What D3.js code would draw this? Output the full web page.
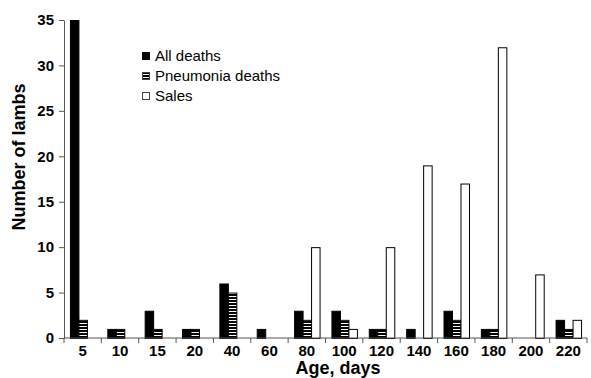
<!DOCTYPE html>
<html>
<head>
<meta charset="utf-8">
<script src="https://cdn.jsdelivr.net/npm/d3@7"></script>
<style>
  body { margin: 0; background: #fff; }
  svg { display: block; font-family: "Liberation Sans", Arial, sans-serif; }
</style>
</head>
<body>
<svg id="chart"></svg>
<script>
const width = 591
const height = 378
const marginTop = 20
const marginLeft = 64
const plotRight = 587
const plotBottom = 338

// data
const ages = ["5", "10", "15", "20", "40", "60", "80", "100", "120", "140", "160", "180", "200", "220"]
const allDeaths = [35, 1, 3, 1, 6, 1, 3, 3, 1, 1, 3, 1, 0, 2]
const pneumoniaDeaths = [2, 1, 1, 1, 5, 0, 2, 2, 1, 0, 2, 1, 0, 1]
const sales = [0, 0, 0, 0, 0, 0, 10, 1, 10, 19, 17, 32, 7, 2]
const seriesNames = ["All deaths", "Pneumonia deaths", "Sales"]
const yTicks = [0, 5, 10, 15, 20, 25, 30, 35]

const seriesValues = [allDeaths, pneumoniaDeaths, sales]
const fills = ["#000", "url(#hatch)", "#fff"]

const svg = d3.select("#chart")
    .attr("width", width)
    .attr("height", height)

const defs = svg.append("defs")
const hatch = defs.append("pattern")
    .attr("id", "hatch")
    .attr("patternUnits", "userSpaceOnUse")
    .attr("width", 6)
    .attr("height", 3)
hatch.append("rect").attr("width", 6).attr("height", 3).attr("fill", "#fff")
hatch.append("rect").attr("width", 6).attr("height", 2).attr("fill", "#000")

const x = d3.scaleBand()
    .domain(ages)
    .range([marginLeft, plotRight])
    .padding(0)

const xInner = d3.scaleBand()
    .domain(d3.range(3))
    .range([0, x.bandwidth()])
    .paddingInner(0)
    .paddingOuter(0.7)

const y = d3.scaleLinear()
    .domain([0, 35])
    .range([plotBottom, marginTop])

// bars
const groups = svg.append("g")
    .selectAll("g")
    .data(ages)
    .join("g")
    .attr("transform", d => `translate(${x(d)},0)`)

groups.selectAll("rect")
    .data((d, i) => seriesValues.map((s, k) => ({ k, v: s[i] })))
    .join("rect")
    .filter(d => d.v > 0)
    .attr("x", d => xInner(d.k) + 0.5)
    .attr("y", d => y(d.v) + 0.5)
    .attr("width", xInner.bandwidth())
    .attr("height", d => y(0) - y(d.v))
    .attr("fill", d => fills[d.k])
    .attr("stroke", "#000")
    .attr("stroke-width", 1)

// y axis
const yAxis = svg.append("g")
    .attr("transform", `translate(${marginLeft},0)`)
    .call(d3.axisLeft(y).tickValues(yTicks).tickSize(5).tickSizeOuter(0).tickPadding(5))
yAxis.select(".domain").attr("stroke", "#555")
yAxis.selectAll(".tick line").attr("stroke", "#555")
yAxis.selectAll("text")
    .attr("font-size", 15)
    .attr("font-weight", "bold")
    .attr("fill", "#000")
    .attr("font-family", "Liberation Sans, Arial, sans-serif")

// x axis: ticks sit on category boundaries
const xAxisG = svg.append("g")
    .attr("transform", `translate(0,${plotBottom})`)
xAxisG.append("line")
    .attr("x1", marginLeft)
    .attr("x2", plotRight)
    .attr("stroke", "#555")
xAxisG.selectAll("line.tk")
    .data(ages.concat(["end"]))
    .join("line")
    .attr("class", "tk")
    .attr("x1", (d, i) => i < ages.length ? x(d) : plotRight)
    .attr("x2", (d, i) => i < ages.length ? x(d) : plotRight)
    .attr("y1", 0)
    .attr("y2", 5)
    .attr("stroke", "#555")
xAxisG.selectAll("text")
    .data(ages)
    .join("text")
    .attr("x", d => x(d) + x.bandwidth() / 2)
    .attr("y", 18)
    .attr("text-anchor", "middle")
    .attr("font-size", 15)
    .attr("font-weight", "bold")
    .text(d => d)

// axis titles
svg.append("text")
    .attr("x", 338)
    .attr("y", 374)
    .attr("text-anchor", "middle")
    .attr("font-size", 18)
    .attr("font-weight", "bold")
    .text("Age, days")

svg.append("text")
    .attr("transform", "translate(25,157) rotate(-90)")
    .attr("text-anchor", "middle")
    .attr("font-size", 18)
    .attr("font-weight", "bold")
    .text("Number of lambs")

// legend
const legend = svg.append("g")
    .attr("transform", "translate(142,52)")
const items = legend.selectAll("g")
    .data(seriesNames)
    .join("g")
    .attr("transform", (d, i) => `translate(0,${i * 20})`)
items.append("rect")
    .attr("x", 0.5)
    .attr("y", 0.5)
    .attr("width", 7)
    .attr("height", 7)
    .attr("fill", (d, i) => fills[i])
    .attr("stroke", (d, i) => i === 0 ? "#000" : "#444")
items.append("text")
    .attr("x", 13)
    .attr("y", 8.5)
    .attr("font-size", 15)
    .text(d => d)
</script>
</body>
</html>
